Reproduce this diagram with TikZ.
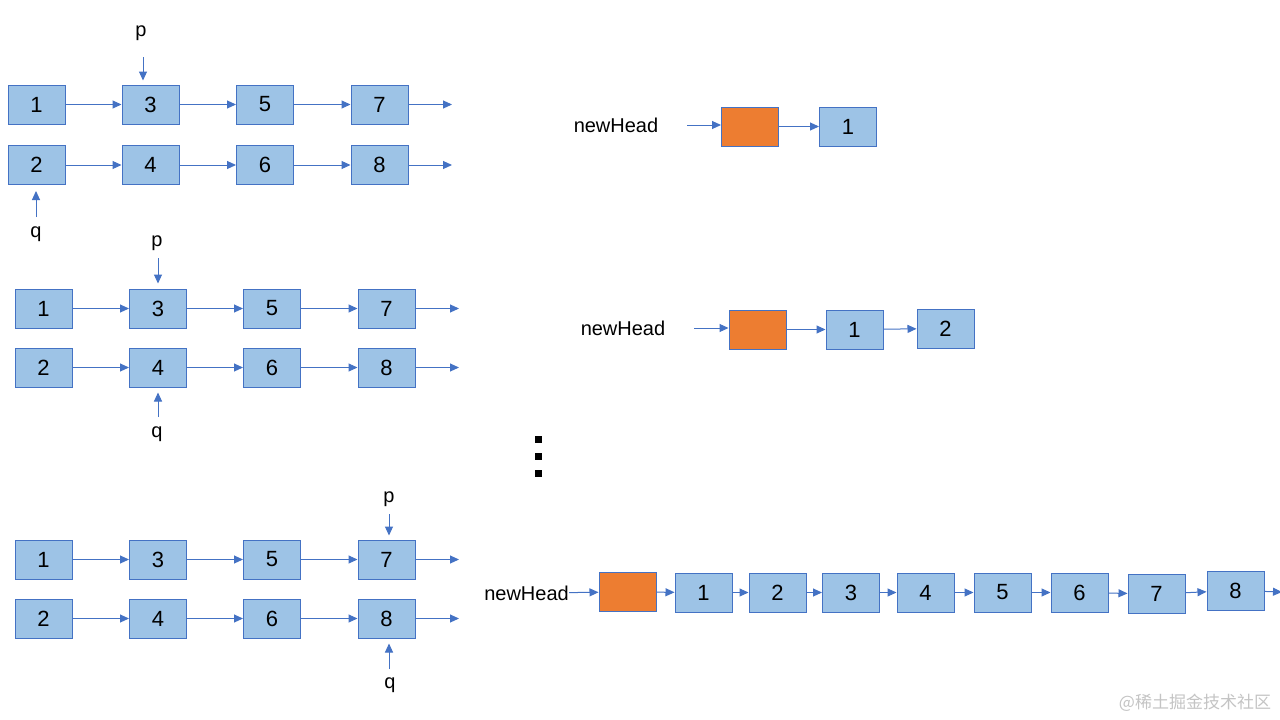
\documentclass[tikz,border=0pt]{standalone}
\usepackage{fontspec}
\setmainfont{Liberation Sans}
\newfontfamily\cjk{Noto Sans CJK SC}
\usetikzlibrary{arrows.meta}
\definecolor{bx}{HTML}{9DC3E6}
\definecolor{bd}{HTML}{4472C4}
\definecolor{org}{HTML}{ED7D31}
\definecolor{wm}{HTML}{C4C4C4}
\tikzset{
  box/.style={draw=bd, fill=bx, line width=1pt, minimum width=57pt, minimum height=39pt, inner sep=0pt, font=\fontsize{22}{24}\selectfont},
  obox/.style={box, fill=org},
  arr/.style={draw=bd, line width=1pt, -{Triangle[length=9pt,width=8pt]}},
  lbl/.style={inner sep=0pt, font=\fontsize{20}{22}\selectfont},
}
\begin{document}
\begin{tikzpicture}[x=1pt,y=-1pt]
\useasboundingbox (0,0) rectangle (1280,720);
\fill[white] (0,0) rectangle (1280,720);
% ---------- section 1 ----------
\foreach \i/\x/\t/\b in {1/36.5/1/2, 2/150.5/3/4, 3/265/5/6, 4/379.5/7/8}{
  \node[box] (a\i) at (\x,104.5) {\t};
  \node[box] (b\i) at (\x,165) {\b};
}
\foreach \i in {1,2,3}{
  \pgfmathtruncatemacro\j{\i+1}
  \draw[arr] (a\i) -- (a\j);
  \draw[arr] (b\i) -- (b\j);
}
\coordinate (ae) at (452,104.5); \coordinate (be) at (452,165);
\draw[arr] (a4) -- (ae); \draw[arr] (b4) -- (be);
\node[lbl] (p1) at (141,33) {p};
\coordinate (p1s) at (143,57);
\draw[arr, shorten >=4pt] (p1s) -- (p1s |- a2.north);
\node[lbl] (q1) at (36,234) {q};
\coordinate (q1s) at (36,217);
\draw[arr, shorten >=6pt] (q1s) -- (q1s |- b1.south);
% ---------- section 2 ----------
\foreach \i/\x/\t/\b in {1/43.5/1/2, 2/158/3/4, 3/272/5/6, 4/386.5/7/8}{
  \node[box] (c\i) at (\x,308.5) {\t};
  \node[box] (d\i) at (\x,367.5) {\b};
}
\foreach \i in {1,2,3}{
  \pgfmathtruncatemacro\j{\i+1}
  \draw[arr] (c\i) -- (c\j);
  \draw[arr] (d\i) -- (d\j);
}
\coordinate (ce) at (459,308.5); \coordinate (de) at (459,367.5);
\draw[arr] (c4) -- (ce); \draw[arr] (d4) -- (de);
\node[lbl] (p2) at (157,243) {p};
\coordinate (p2s) at (158,258);
\draw[arr, shorten >=5pt] (p2s) -- (p2s |- c2.north);
\node[lbl] (q2) at (157,434) {q};
\coordinate (q2s) at (158,417);
\draw[arr, shorten >=5pt] (q2s) -- (q2s |- d2.south);
% ---------- section 3 ----------
\foreach \i/\x/\t/\b in {1/43.5/1/2, 2/158/3/4, 3/272/5/6, 4/386.5/7/8}{
  \node[box] (e\i) at (\x,559.5) {\t};
  \node[box] (f\i) at (\x,618.5) {\b};
}
\foreach \i in {1,2,3}{
  \pgfmathtruncatemacro\j{\i+1}
  \draw[arr] (e\i) -- (e\j);
  \draw[arr] (f\i) -- (f\j);
}
\coordinate (ee) at (459,559.5); \coordinate (fe) at (459,618.5);
\draw[arr] (e4) -- (ee); \draw[arr] (f4) -- (fe);
\node[lbl] (p3) at (389,499) {p};
\coordinate (p3s) at (389,514);
\draw[arr, shorten >=4pt] (p3s) -- (p3s |- e4.north);
\node[lbl] (q3) at (390,685) {q};
\coordinate (q3s) at (389,669);
\draw[arr, shorten >=5pt] (q3s) -- (q3s |- f4.south);
% ---------- right: step 1 ----------
\node[lbl] (nh1) at (616,125) {newHead};
\coordinate (nh1s) at (687,125);
\node[obox] (o1) at (750,126.5) {};
\node[box] (r11) at (848,126.5) {1};
\draw[arr] (nh1s) -- (nh1s -| o1.west);
\draw[arr] (o1) -- (r11);
% ---------- right: step 2 ----------
\node[lbl] (nh2) at (623,328) {newHead};
\coordinate (nh2s) at (694,328);
\node[obox] (o2) at (757.5,329.5) {};
\node[box] (r21) at (854.5,329.5) {1};
\node[box] (r22) at (945.5,328.5) {2};
\draw[arr] (nh2s) -- (nh2s -| o2.west);
\draw[arr] (o2) -- (r21);
\draw[arr] (r21) -- (r22);
% ---------- dots ----------
\fill (535,436) rectangle (542,443);
\fill (535,453) rectangle (542,460);
\fill (535,470) rectangle (542,477);
% ---------- right: final ----------
\node[lbl, anchor=east] (nh3) at (569,593) {newHead};
\node[obox] (o3) at (627.5,592) {};
\foreach \i/\x/\y in {1/703.5/592.5, 2/777.5/592.5, 3/851/592.5, 4/925.5/592.5, 5/1002.5/592.5, 6/1079.5/592.5, 7/1156.5/594, 8/1235.5/590.5}{
  \node[box] (g\i) at (\x,\y) {\i};
}
\draw[arr] (nh3) -- (o3);
\draw[arr] (o3) -- (g1);
\foreach \i in {1,...,7}{
  \pgfmathtruncatemacro\j{\i+1}
  \draw[arr] (g\i) -- (g\j);
}
\coordinate (ge) at (1282,592);
\draw[arr] (g8) -- (ge);
% ---------- watermark ----------
\node[inner sep=0pt, text=wm, font=\cjk\fontsize{17}{19}\selectfont] (wm) at (1195,703) {@稀土掘金技术社区};
\end{tikzpicture}
\end{document}
